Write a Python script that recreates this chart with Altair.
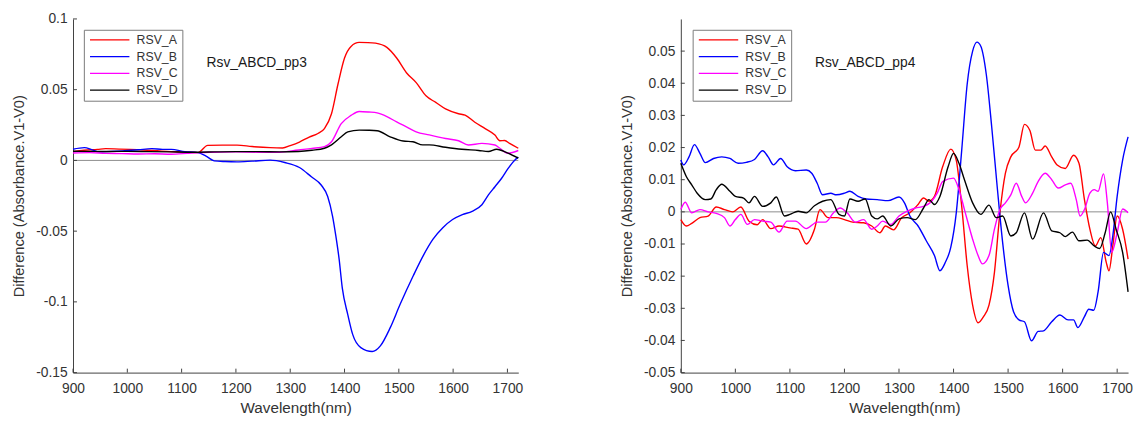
import altair as alt
import pandas as pd

SERIES = ["RSV_A", "RSV_B", "RSV_C", "RSV_D"]
COLORS = ["#ff0000", "#0000ff", "#ff00ff", "#000000"]

# ---------- panel 1 : Rsv_ABCD_pp3 ----------
p3_A_x = [900, 920, 945, 960, 985, 1005, 1030, 1055, 1080, 1105, 1130, 1148, 1175, 1202, 1230, 1263, 1286, 1300, 1317, 1335, 1351, 1363, 1376, 1388, 1400, 1412, 1427, 1443, 1457, 1478, 1496, 1514, 1532, 1550, 1568, 1586, 1610, 1622, 1640, 1659, 1677, 1686, 1695, 1704, 1720]
p3_A_y = [0.0062, 0.0072, 0.0078, 0.0083, 0.008, 0.0078, 0.0074, 0.0068, 0.0062, 0.006, 0.0055, 0.0106, 0.0108, 0.0108, 0.0098, 0.009, 0.0088, 0.0105, 0.013, 0.0165, 0.019, 0.0225, 0.033, 0.054, 0.0724, 0.0806, 0.0834, 0.0833, 0.0829, 0.0799, 0.0724, 0.062, 0.055, 0.0457, 0.041, 0.0364, 0.033, 0.032, 0.027, 0.0225, 0.0179, 0.0139, 0.0141, 0.012, 0.0086]

p3_B_x = [900, 921, 935, 948, 970, 991, 1020, 1045, 1065, 1081, 1106, 1130, 1145, 1160, 1180, 1202, 1230, 1263, 1290, 1317, 1339, 1357, 1369, 1378, 1384, 1390, 1396, 1406, 1415, 1430, 1451, 1466, 1484, 1502, 1527, 1545, 1563, 1581, 1599, 1617, 1635, 1653, 1665, 1677, 1689, 1701, 1713, 1720]
p3_B_y = [0.0079, 0.009, 0.0075, 0.006, 0.0064, 0.0067, 0.0075, 0.0083, 0.0078, 0.0078, 0.0062, 0.0055, 0.003, -0.0003, -0.0008, -0.001, -0.0005, 0.0002, -0.0015, -0.005, -0.0116, -0.0174, -0.0255, -0.0395, -0.0534, -0.0696, -0.0905, -0.109, -0.123, -0.1323, -0.1351, -0.1311, -0.1184, -0.1021, -0.0812, -0.0673, -0.0557, -0.0476, -0.0418, -0.0383, -0.036, -0.0313, -0.0244, -0.0186, -0.0128, -0.0058, 0.0, 0.0023]

p3_C_x = [900, 930, 960, 990, 1020, 1050, 1080, 1110, 1130, 1160, 1200, 1240, 1280, 1315, 1340, 1363, 1376, 1394, 1412, 1427, 1445, 1460, 1478, 1496, 1514, 1532, 1556, 1586, 1610, 1628, 1653, 1677, 1686, 1701, 1720]
p3_C_y = [0.0052, 0.0055, 0.005, 0.0048, 0.0045, 0.0047, 0.0044, 0.005, 0.0055, 0.0058, 0.006, 0.0058, 0.0058, 0.0074, 0.0085, 0.0097, 0.0132, 0.026, 0.0318, 0.0346, 0.0342, 0.0336, 0.031, 0.0272, 0.0237, 0.0202, 0.018, 0.0155, 0.0139, 0.0109, 0.012, 0.0109, 0.0086, 0.0051, 0.007]

p3_D_x = [900, 930, 960, 1000, 1040, 1080, 1110, 1130, 1160, 1200, 1240, 1280, 1315, 1340, 1363, 1376, 1394, 1406, 1427, 1445, 1460, 1484, 1508, 1526, 1544, 1556, 1586, 1616, 1647, 1665, 1680, 1701, 1720]
p3_D_y = [0.0065, 0.0064, 0.0063, 0.0064, 0.0062, 0.006, 0.0058, 0.0058, 0.006, 0.0062, 0.0062, 0.006, 0.0063, 0.0072, 0.0086, 0.011, 0.0167, 0.0202, 0.0214, 0.0213, 0.021, 0.0167, 0.0137, 0.0132, 0.011, 0.011, 0.0093, 0.0079, 0.007, 0.0063, 0.0079, 0.0051, 0.0016]

# ---------- panel 2 : Rsv_ABCD_pp4 ----------
p4_A_x = [900, 910, 920, 935, 950, 965, 980, 995, 1010, 1025, 1040, 1050, 1065, 1080, 1100, 1115, 1130, 1145, 1155, 1170, 1185, 1200, 1215, 1235, 1250, 1265, 1275, 1290, 1305, 1320, 1335, 1345, 1355, 1365, 1380, 1395, 1405, 1415, 1425, 1435, 1445, 1455, 1465, 1475, 1485, 1495, 1505, 1520, 1530, 1540, 1550, 1560, 1568, 1580, 1590, 1605, 1620, 1630, 1640, 1650, 1660, 1670, 1680, 1685, 1692, 1700, 1710, 1720]
p4_A_y = [-0.0024, -0.0044, -0.0036, -0.0018, -0.0013, 0.0015, 0.0007, 0.0, 0.0015, -0.0029, -0.004, -0.0024, -0.0052, -0.0044, -0.005, -0.0054, -0.01, -0.0054, 0.0007, -0.0018, -0.0018, -0.0024, -0.0032, -0.0034, -0.0044, -0.0065, -0.0044, -0.0056, -0.0018, -0.0003, 0.0023, 0.0043, 0.0033, 0.0048, 0.014, 0.0195, 0.016, 0.0017, -0.0167, -0.029, -0.0345, -0.0326, -0.029, -0.0188, -0.0003, 0.012, 0.0171, 0.0202, 0.0272, 0.0253, 0.0192, 0.0192, 0.0205, 0.0171, 0.0146, 0.0135, 0.0176, 0.0151, 0.0038, -0.0054, -0.0106, -0.008, -0.0157, -0.0183, -0.0106, -0.0013, -0.0054, -0.0147]

p4_B_x = [900, 905, 915, 925, 935, 945, 960, 975, 990, 1005, 1020, 1035, 1050, 1060, 1070, 1083, 1095, 1110, 1130, 1140, 1150, 1160, 1175, 1185, 1200, 1210, 1225, 1240, 1260, 1280, 1300, 1310, 1320, 1335, 1350, 1365, 1375, 1385, 1395, 1405, 1415, 1425, 1435, 1443, 1450, 1460, 1470, 1480, 1490, 1500, 1510, 1520, 1530, 1543, 1555, 1565, 1580, 1595, 1610, 1620, 1628, 1640, 1648, 1657, 1665, 1675, 1685, 1692, 1700, 1710, 1720]
p4_B_y = [0.0161, 0.0146, 0.0171, 0.0209, 0.0182, 0.0153, 0.0166, 0.0171, 0.0166, 0.0151, 0.0154, 0.0163, 0.019, 0.0171, 0.0146, 0.0166, 0.014, 0.0128, 0.013, 0.012, 0.0089, 0.0053, 0.0058, 0.0053, 0.0058, 0.0064, 0.0048, 0.004, 0.0038, 0.0035, 0.0046, 0.0028, -0.0013, -0.0044, -0.009, -0.0136, -0.0183, -0.0157, -0.011, -0.0003, 0.0192, 0.0397, 0.05, 0.0528, 0.0515, 0.0428, 0.0264, 0.0079, -0.0095, -0.0229, -0.0311, -0.0336, -0.0342, -0.0401, -0.0372, -0.037, -0.0342, -0.0321, -0.0336, -0.0336, -0.036, -0.0326, -0.0303, -0.0306, -0.0249, -0.0126, -0.0136, -0.0075, 0.0048, 0.0161, 0.0233]

p4_C_x = [900, 908, 920, 935, 950, 965, 980, 990, 1000, 1010, 1022, 1035, 1050, 1065, 1080, 1095, 1110, 1130, 1150, 1165, 1180, 1192, 1205, 1220, 1235, 1250, 1260, 1270, 1285, 1300, 1315, 1330, 1345, 1360, 1370, 1380, 1400, 1410, 1420, 1435, 1445, 1453, 1465, 1475, 1485, 1495, 1505, 1515, 1525, 1532, 1545, 1555, 1568, 1580, 1592, 1605, 1615, 1625, 1632, 1640, 1650, 1658, 1665, 1675, 1682, 1690, 1700, 1710, 1720]
p4_C_y = [0.0007, 0.003, -0.0003, 0.0007, 0.0, -0.0005, -0.0018, -0.0044, -0.0024, -0.0008, -0.0039, -0.0024, -0.0029, -0.0032, -0.0063, -0.0029, -0.0029, -0.0052, -0.0032, -0.0032, -0.0003, 0.0012, -0.0003, -0.0032, -0.0024, -0.0054, -0.0044, -0.0029, -0.0039, -0.0013, 0.0002, 0.0012, 0.0017, 0.0033, 0.0058, 0.0094, 0.0105, 0.0069, 0.0007, -0.0085, -0.0136, -0.0162, -0.0136, -0.0054, 0.0007, 0.0028, 0.0053, 0.0089, 0.0048, 0.0028, 0.0058, 0.0094, 0.012, 0.01, 0.0074, 0.0084, 0.0089, 0.0038, -0.0013, 0.0007, 0.0058, 0.0069, 0.0064, 0.0118, 0.0028, -0.0126, -0.0065, 0.0009, -0.0003]

p4_D_x = [900, 910, 920, 930, 945, 955, 965, 975, 990, 1000, 1015, 1025, 1035, 1050, 1065, 1075, 1090, 1100, 1115, 1130, 1145, 1160, 1175, 1190, 1200, 1210, 1225, 1238, 1250, 1260, 1270, 1285, 1300, 1315, 1330, 1345, 1355, 1365, 1375, 1390, 1400, 1410, 1420, 1435, 1450, 1465, 1478, 1490, 1505, 1515, 1530, 1545, 1565, 1580, 1595, 1605, 1618, 1630, 1645, 1658, 1668, 1678, 1688, 1698, 1710, 1720]
p4_D_y = [0.0151, 0.011, 0.0084, 0.0058, 0.0038, 0.004, 0.0069, 0.0086, 0.0064, 0.0048, 0.0043, 0.0028, 0.0048, 0.0017, 0.0028, 0.0046, -0.0013, -0.0008, 0.0002, -0.0003, 0.0019, 0.0033, 0.0038, -0.0008, -0.0013, 0.004, 0.0033, 0.004, -0.0013, -0.0022, -0.0013, -0.0044, -0.0022, -0.0018, -0.0024, 0.0012, 0.0038, 0.0023, 0.0048, 0.014, 0.0182, 0.0151, 0.01, 0.0028, -0.0008, 0.0021, -0.0018, -0.0013, -0.0075, -0.0065, -0.0003, -0.0085, -0.0003, -0.0059, -0.0065, -0.0077, -0.0063, -0.009, -0.0088, -0.0106, -0.0114, -0.0065, 0.0, -0.0054, -0.0126, -0.0249]

x_ticks = [900, 1000, 1100, 1200, 1300, 1400, 1500, 1600, 1700]
x_domain = [900, 1720]
p3_y_ticks = [-0.15, -0.1, -0.05, 0, 0.05, 0.1]
p3_y_domain = [-0.15, 0.1]
p4_y_ticks = [-0.05, -0.04, -0.03, -0.02, -0.01, 0, 0.01, 0.02, 0.03, 0.04, 0.05]
p4_y_domain = [-0.05, 0.06]

p3_label = "Rsv_ABCD_pp3"
p3_label_pos = (1146, 0.0687)
p4_label = "Rsv_ABCD_pp4"
p4_label_pos = (1146, 0.0462)

FONT = "Liberation Sans"
AX = "#404040"
TXT = "#333333"
H = 359


def long_df(xs, ys):
    rows = []
    for name, xv, yv in zip(SERIES, xs, ys):
        for a, b in zip(xv, yv):
            rows.append({"x": a, "y": b, "series": name})
    return pd.DataFrame(rows)


def panel(xs, ys, yticks, ydomain, label, label_pos, width, legend_x):
    xscale = alt.Scale(domain=x_domain, nice=False, zero=False)
    yscale = alt.Scale(domain=ydomain, nice=False, zero=False)
    xaxis = alt.Axis(values=x_ticks, title="Wavelength(nm)", grid=False, ticks=False, tickSize=0,
                     labelFlush=False, labelPadding=9, titlePadding=6, domainColor=AX,
                     labelColor=TXT, titleColor=TXT, labelFont=FONT, titleFont=FONT,
                     labelFontSize=14, titleFontSize=15.5, titleFontWeight="normal",
                     labelExpr="'' + datum.value")
    yaxis = alt.Axis(values=yticks, title="Difference (Absorbance.V1-V0)", grid=False, ticks=False,
                     tickSize=0, labelPadding=6, minExtent=39, maxExtent=39, titlePadding=8,
                     domainColor=AX, labelColor=TXT, titleColor=TXT, labelFont=FONT, titleFont=FONT,
                     labelFontSize=14, titleFontSize=14.8, titleFontWeight="normal",
                     labelExpr="'' + datum.value")
    xe = alt.X("x:Q", scale=xscale, axis=xaxis)
    ye = alt.Y("y:Q", scale=yscale, axis=yaxis)

    zero = alt.Chart(pd.DataFrame({"y": [0]})).mark_rule(color="#8c8c8c", strokeWidth=1).encode(y=ye)
    lines = alt.Chart(long_df(xs, ys)).mark_line(strokeWidth=1.4, interpolate="monotone").encode(
        x=xe, y=ye,
        color=alt.Color("series:N", scale=alt.Scale(domain=SERIES, range=COLORS),
                        legend=alt.Legend(title=None, orient="none", legendX=legend_x, legendY=11,
                                          symbolType="M-1,0H9", symbolSize=64, symbolStrokeWidth=1.5,
                                          labelOffset=37, labelFontSize=12.5, labelFont=FONT,
                                          labelColor=TXT, rowPadding=4, padding=4,
                                          strokeColor="#7a7a7a", fillColor="white")),
        detail="series:N",
    )
    txt = alt.Chart(pd.DataFrame({"x": [label_pos[0]], "y": [label_pos[1]], "t": [label]})).mark_text(
        align="left", baseline="middle", font=FONT, fontSize=14, color="#1a1a1a"
    ).encode(x=xe, y=ye, text="t:N")
    yt = alt.Chart(pd.DataFrame({"y": yticks})).mark_rule(color=AX, strokeWidth=1).encode(
        y=ye, x=alt.value(0), x2=alt.value(4))
    xt = alt.Chart(pd.DataFrame({"x": x_ticks})).mark_rule(color=AX, strokeWidth=1).encode(
        x=xe, y=alt.value(H), y2=alt.value(H - 4))
    return alt.layer(zero, lines, txt, yt, xt).properties(width=width, height=H)


left = panel([p3_A_x, p3_B_x, p3_C_x, p3_D_x], [p3_A_y, p3_B_y, p3_C_y, p3_D_y],
             p3_y_ticks, p3_y_domain, p3_label, p3_label_pos, 452, 11)
right = panel([p4_A_x, p4_B_x, p4_C_x, p4_D_x], [p4_A_y, p4_B_y, p4_C_y, p4_D_y],
              p4_y_ticks, p4_y_domain, p4_label, p4_label_pos, 454, 12)

chart = alt.hconcat(left, right, spacing=98).resolve_scale(
    color="independent", x="independent", y="independent"
).properties(
    padding={"left": 4, "top": 1, "right": 0, "bottom": 0},
    background="white",
).configure_view(stroke=None)

chart.save("out.html", embed_options={"renderer": "svg", "actions": False})
